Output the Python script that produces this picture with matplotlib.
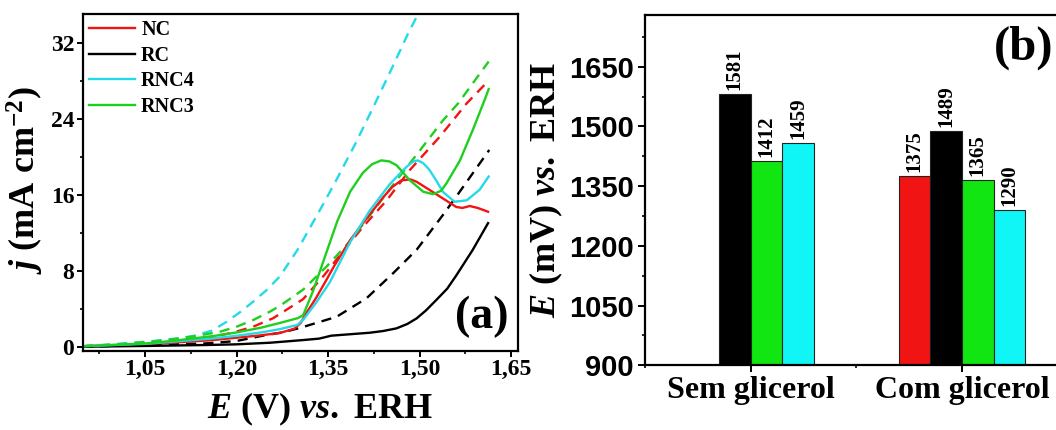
import numpy as np
import matplotlib
matplotlib.use("Agg")
import matplotlib.pyplot as plt
from matplotlib.ticker import MultipleLocator, FuncFormatter

plt.rcParams['font.family'] = ['Liberation Serif', 'DejaVu Serif']
plt.rcParams['font.weight'] = 'bold'
plt.rcParams['mathtext.fontset'] = 'custom'
plt.rcParams['mathtext.rm'] = 'Liberation Serif:bold'
plt.rcParams['mathtext.it'] = 'Liberation Serif:italic:bold'
plt.rcParams['mathtext.bf'] = 'Liberation Serif:bold'

# ---- (a) polarisation curves, j in mA cm-2 vs E in V ----
nc_E = [0.948, 1.05, 1.10, 1.162, 1.20, 1.24, 1.271, 1.295, 1.305, 1.315, 1.33, 1.347, 1.36,
        1.386, 1.407, 1.429, 1.44, 1.455, 1.47, 1.485, 1.495, 1.516, 1.538, 1.56, 1.57, 1.582,
        1.595, 1.612]
nc_j = [0.05, 0.25, 0.45, 0.7, 0.95, 1.2, 1.45, 1.9, 2.5, 3.6, 5.1, 7.0, 8.5,
        11.2, 13.0, 14.8, 15.7, 16.8, 17.5, 17.6, 17.35, 16.5, 15.6, 14.7, 14.6, 14.8,
        14.6, 14.2]

rc_E = [0.948, 1.05, 1.15, 1.20, 1.255, 1.309, 1.335, 1.345, 1.355, 1.418, 1.44, 1.462, 1.48,
        1.495, 1.51, 1.527, 1.545, 1.56, 1.587, 1.612]
rc_j = [0.0, 0.08, 0.18, 0.25, 0.42, 0.7, 0.85, 1.0, 1.16, 1.47, 1.65, 1.93, 2.4,
        2.98, 3.8, 4.9, 6.1, 7.5, 10.2, 13.0]

rnc4_E = [0.948, 1.05, 1.10, 1.162, 1.20, 1.24, 1.271, 1.30, 1.31, 1.33, 1.353, 1.386, 1.418,
          1.451, 1.478, 1.49, 1.497, 1.506, 1.516, 1.527, 1.538, 1.557, 1.577, 1.598, 1.613]
rnc4_j = [0.05, 0.3, 0.55, 0.88, 1.15, 1.5, 1.85, 2.3, 2.9, 4.6, 6.8, 11.0, 14.3,
          17.1, 18.9, 19.5, 19.6, 19.3, 18.6, 17.5, 16.3, 15.25, 15.4, 16.5, 17.9]

rnc3_E = [0.948, 1.053, 1.10, 1.162, 1.20, 1.24, 1.271, 1.30, 1.309, 1.325, 1.345, 1.365, 1.386,
          1.407, 1.422, 1.437, 1.45, 1.462, 1.484, 1.506, 1.522, 1.535, 1.544, 1.566, 1.587,
          1.606, 1.613]
rnc3_j = [0.05, 0.35, 0.65, 1.12, 1.5, 2.0, 2.5, 3.0, 3.3, 5.8, 9.5, 13.2, 16.3,
          18.3, 19.2, 19.6, 19.5, 19.1, 17.5, 16.3, 16.05, 16.4, 17.2, 19.6, 22.8,
          25.9, 27.1]

# dashed runs
nc_dash_E = [0.948, 1.05, 1.10, 1.156, 1.192, 1.227, 1.26, 1.309, 1.342, 1.374, 1.407, 1.446,
             1.484, 1.533, 1.577, 1.613]
nc_dash_j = [0.05, 0.3, 0.6, 1.0, 1.45, 2.1, 3.0, 5.0, 7.4, 10.0, 12.6, 15.4,
             18.6, 22.1, 25.6, 28.0]

rc_dash_E = [0.948, 1.05, 1.15, 1.20, 1.246, 1.275, 1.305, 1.364, 1.413, 1.456, 1.495, 1.538,
             1.56, 1.614]
rc_dash_j = [0.0, 0.15, 0.35, 0.6, 1.2, 1.5, 2.0, 3.15, 5.1, 7.7, 10.2, 13.85,
             15.8, 20.7]

rnc4_dash_E = [0.948, 1.00, 1.053, 1.10, 1.129, 1.16, 1.184, 1.205, 1.227, 1.25, 1.271, 1.30,
               1.342, 1.364, 1.395, 1.424, 1.453, 1.481, 1.499]
rnc4_dash_j = [0.05, 0.25, 0.53, 0.85, 1.12, 1.7, 2.63, 3.6, 4.73, 6.0, 7.4, 10.2,
               15.0, 17.6, 21.4, 25.2, 29.1, 32.95, 35.2]

rnc3_dash_E = [0.948, 1.025, 1.07, 1.107, 1.14, 1.173, 1.20, 1.227, 1.255, 1.271, 1.309, 1.347,
               1.386, 1.429, 1.462, 1.495, 1.538, 1.563, 1.613]
rnc3_dash_j = [0.05, 0.36, 0.6, 0.88, 1.2, 1.58, 2.1, 2.8, 3.7, 4.3, 6.0, 8.4,
               11.1, 14.7, 17.5, 20.2, 23.8, 25.6, 30.0]

# ---- (b) onset potentials, mV ----
groups = ['Sem glicerol', 'Com glicerol']
nc_mv = [np.nan, 1375]
rc_mv = [1581, 1489]
rnc3_mv = [1412, 1365]
rnc4_mv = [1459, 1290]

RED = '#f01414'
BLACK = '#000000'
CYAN = '#26d9e8'
GREEN = '#1fcf1f'

fig = plt.figure(figsize=(10.56, 4.3), dpi=100)
ax1 = fig.add_axes([0.0783, 0.1844, 0.4122, 0.7830])
ax2 = fig.add_axes([0.6108, 0.1505, 0.4002, 0.8147])

lw = 1.7
dash = (0, (4.3, 3.0))
curves = [
    (nc_E, nc_j, nc_dash_E, nc_dash_j, RED, 'NC'),
    (rc_E, rc_j, rc_dash_E, rc_dash_j, BLACK, 'RC'),
    (rnc4_E, rnc4_j, rnc4_dash_E, rnc4_dash_j, CYAN, 'RNC4'),
    (rnc3_E, rnc3_j, rnc3_dash_E, rnc3_dash_j, GREEN, 'RNC3'),
]
handles = []
for E, j, Ed, jd, c, name in curves:
    ax1.plot(Ed, jd, color=c, lw=lw, linestyle=dash)
for E, j, Ed, jd, c, name in curves:
    h, = ax1.plot(E, j, color=c, lw=lw, label=name)
    handles.append(h)

ax1.set_xlim(0.948, 1.661)
ax1.set_ylim(-0.42, 35.0)
ax1.set_xticks([1.05, 1.20, 1.35, 1.50, 1.65])
ax1.xaxis.set_minor_locator(MultipleLocator(0.075))
ax1.xaxis.set_major_formatter(FuncFormatter(lambda v, p: f'{v:.2f}'.replace('.', ',')))
ax1.yaxis.set_major_locator(MultipleLocator(8))
ax1.yaxis.set_minor_locator(MultipleLocator(4))
ax1.tick_params(which='major', direction='out', length=4, width=1.4, labelsize=17, pad=2)
ax1.tick_params(which='minor', direction='out', length=2.5, width=1.2)
for s in ax1.spines.values():
    s.set_linewidth(1.6)

ax1.set_xlabel(r'$E$ (V) $vs.$ ERH', fontsize=26, fontweight='bold')
ax1.xaxis.set_label_coords(0.545, -0.12)
ax1.set_ylabel(r'$j$ (mA cm$^{-2}$)', fontsize=26, fontweight='bold')
ax1.yaxis.set_label_coords(-0.085, 0.507)

ax1.legend(handles=handles, loc='upper left', frameon=False,
           handlelength=2.3, handletextpad=0.3, labelspacing=0.28,
           borderaxespad=0.15, borderpad=0.15,
           prop={'family': 'Liberation Serif', 'weight': 'bold', 'size': 14.5})
ax1.text(0.916, 0.101, '(a)', transform=ax1.transAxes, fontsize=33,
         fontweight='bold', ha='center', va='center')

# ---- bars ----
x = np.arange(len(groups))
w = 0.15
bar_sets = [(nc_mv, RED), (rc_mv, BLACK), (rnc3_mv, '#12e612'), (rnc4_mv, '#10f5f5')]
for k, (vals, c) in enumerate(bar_sets):
    pos = x + (k - 1.5) * w
    ax2.bar(pos, vals, width=w, color=c, edgecolor='#222222', linewidth=0.8)
    for p, v in zip(pos, vals):
        if np.isnan(v):
            continue
        ax2.annotate(f'{v:.0f}', (p, v), xytext=(0, 3), textcoords='offset points',
                     rotation=90, ha='center', va='bottom', fontsize=15,
                     fontweight='bold')

ax2.set_xlim(-0.5, 1.5)
ax2.set_ylim(900, 1780)
ax2.set_xticks(x)
ax2.set_xticklabels(groups, fontsize=23, fontweight='bold')
ax2.xaxis.set_minor_locator(MultipleLocator(0.5))
ax2.yaxis.set_major_locator(MultipleLocator(150))
ax2.yaxis.set_minor_locator(MultipleLocator(75))
ax2.tick_params(which='major', direction='out', length=5, width=1.4, pad=3)
ax2.tick_params(which='minor', direction='out', length=2.5, width=1.2)
for lab in ax2.get_yticklabels():
    lab.set_fontfamily('Liberation Sans')
    lab.set_fontsize(21)
    lab.set_fontweight('bold')
for s in ax2.spines.values():
    s.set_linewidth(1.6)

ax2.set_ylabel(r'$E$ (mV) $vs.$ ERH', fontsize=26, fontweight='bold')
ax2.yaxis.set_label_coords(-0.19, 0.5)
ax2.text(0.826, 0.905, '(b)', transform=ax2.transAxes, fontsize=35,
         fontweight='bold', ha='left', va='center')

fig.savefig('out.png', dpi=100)
